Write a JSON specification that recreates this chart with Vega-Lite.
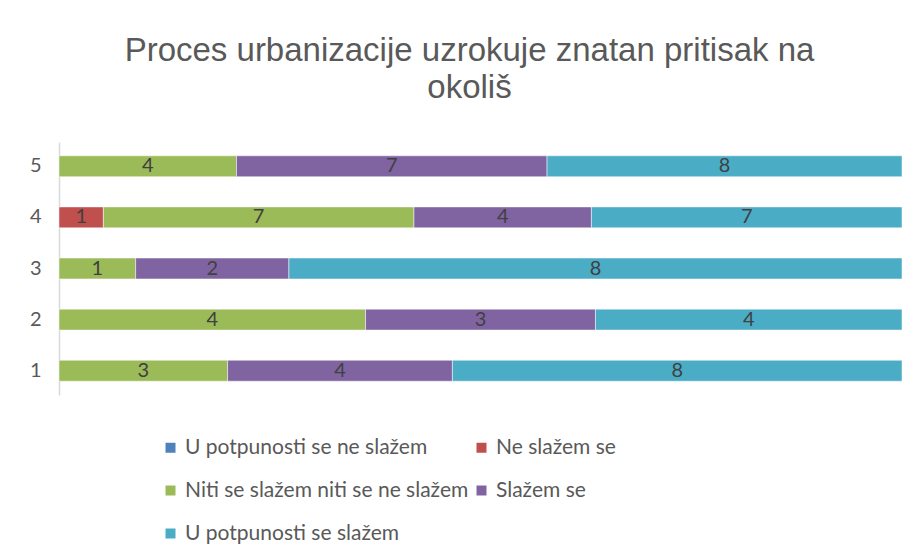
{
  "$schema": "https://vega.github.io/schema/vega-lite/v6.json",
  "width": 843,
  "height": 253,
  "autosize": {"type": "none"},
  "padding": {"left": 59, "top": 142, "right": 15, "bottom": 165},
  "background": "white",
  "title": {
    "text": ["Proces urbanizacije uzrokuje znatan pritisak na", "okoliš"],
    "font": "Liberation Sans",
    "fontSize": 33,
    "fontWeight": "normal",
    "color": "#595959",
    "lineHeight": 37,
    "anchor": "middle",
    "offset": 37,
    "dx": -11
  },
  "data": {
    "values": [
      {"q": "5", "c": "Niti se slažem niti se ne slažem", "v": 4},
      {"q": "5", "c": "Slažem se", "v": 7},
      {"q": "5", "c": "U potpunosti se slažem", "v": 8},
      {"q": "4", "c": "Ne slažem se", "v": 1},
      {"q": "4", "c": "Niti se slažem niti se ne slažem", "v": 7},
      {"q": "4", "c": "Slažem se", "v": 4},
      {"q": "4", "c": "U potpunosti se slažem", "v": 7},
      {"q": "3", "c": "Niti se slažem niti se ne slažem", "v": 1},
      {"q": "3", "c": "Slažem se", "v": 2},
      {"q": "3", "c": "U potpunosti se slažem", "v": 8},
      {"q": "2", "c": "Niti se slažem niti se ne slažem", "v": 4},
      {"q": "2", "c": "Slažem se", "v": 3},
      {"q": "2", "c": "U potpunosti se slažem", "v": 4},
      {"q": "1", "c": "Niti se slažem niti se ne slažem", "v": 3},
      {"q": "1", "c": "Slažem se", "v": 4},
      {"q": "1", "c": "U potpunosti se slažem", "v": 8}
    ]
  },
  "transform": [
    {"calculate": "indexof(['U potpunosti se ne slažem','Ne slažem se','Niti se slažem niti se ne slažem','Slažem se','U potpunosti se slažem'], datum.c)", "as": "ord"},
    {"stack": "v", "groupby": ["q"], "sort": [{"field": "ord", "order": "ascending"}], "offset": "normalize", "as": ["x0", "x1"]},
    {"calculate": "(datum.x0 + datum.x1) / 2", "as": "xm"}
  ],
  "encoding": {
    "y": {
      "field": "q",
      "type": "nominal",
      "sort": "descending",
      "scale": {"paddingInner": 0.59, "paddingOuter": 0.27},
      "axis": {
        "title": null,
        "ticks": false,
        "labelPadding": 18,
        "labelFont": "Lato",
        "labelFontSize": 20,
        "labelColor": "#595959",
        "domainColor": "#D9D9D9",
        "domainWidth": 1.5,
        "grid": false
      }
    }
  },
  "layer": [
    {
      "mark": {"type": "bar", "stroke": "white", "strokeWidth": 0.5},
      "encoding": {
        "x": {"field": "x0", "type": "quantitative", "scale": {"domain": [0, 1], "nice": false}, "axis": null},
        "x2": {"field": "x1"},
        "color": {
          "field": "c",
          "type": "nominal",
          "scale": {
            "domain": ["U potpunosti se ne slažem", "Ne slažem se", "Niti se slažem niti se ne slažem", "Slažem se", "U potpunosti se slažem"],
            "range": ["#4F81BD", "#C0504D", "#9BBB59", "#8064A2", "#4BACC6"]
          },
          "legend": {
            "title": null,
            "orient": "none",
            "direction": "horizontal",
            "legendX": 101,
            "legendY": 295,
            "columns": 2,
            "columnPadding": 2,
            "rowPadding": 21,
            "symbolType": "square",
            "symbolSize": 100,
            "symbolStrokeWidth": 0,
            "labelFont": "Lato",
            "labelFontSize": 21,
            "labelColor": "#595959",
            "labelOffset": 4,
            "labelLimit": 400
          }
        }
      }
    },
    {
      "mark": {"type": "text", "font": "Lato", "fontSize": 20, "color": "#404040", "baseline": "middle"},
      "encoding": {
        "x": {"field": "xm", "type": "quantitative"},
        "text": {"field": "v", "type": "quantitative"}
      }
    }
  ],
  "config": {"view": {"stroke": null}}
}
